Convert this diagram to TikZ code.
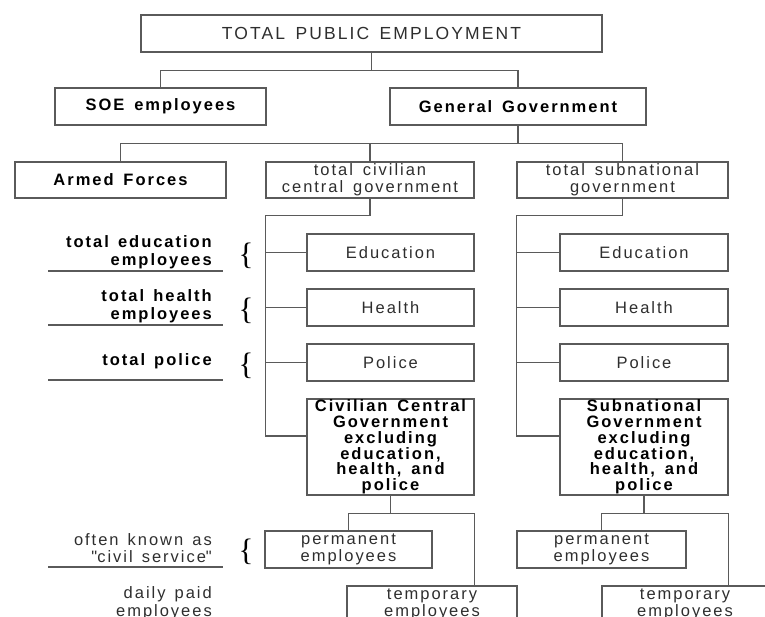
\documentclass[tikz,border=0pt]{standalone}
\usepackage{fontspec}
\setmainfont{Liberation Sans}[LetterSpace=12,WordSpace=1.5]
\newfontfamily\bracefont{Liberation Serif}
\usetikzlibrary{calc}

\definecolor{linegray}{HTML}{5A5A5A}
\definecolor{textgray}{HTML}{2E2E2E}

\begin{document}
\begin{tikzpicture}[x=1pt,y=-1pt,
  every node/.style={font=\fontsize{16.5}{17}\selectfont},
  box/.style={draw=linegray, line width=1.3pt, inner sep=0pt, align=center, text=textgray},
  boldbox/.style={box, font=\fontsize{16.5}{17}\selectfont\bfseries, text=black},
  tightbold/.style={box, font=\fontsize{16.5}{15.8}\selectfont\bfseries, text=black},
  conn/.style={draw=linegray, line width=1.3pt},
  rule/.style={draw=linegray, line width=1.3pt},
  sidelabel/.style={inner xsep=11pt, inner ysep=0pt, text width=200pt, align=right,
    minimum height=37pt, anchor=south east, text=black,
    execute at begin node={\spaceskip=0.55em\relax},
    font=\fontsize{16.5}{18}\selectfont\bfseries},
  sidenote/.style={sidelabel, text=textgray,
    font=\fontsize{16.5}{17.5}\selectfont},
  bracemark/.style={inner sep=0pt, text=black, font=\bracefont\fontsize{31}{31}\selectfont}
]
\useasboundingbox (0,0) rectangle (765,616);
\clip (0,0) rectangle (765,616);

% top levels
\node[box, minimum width=461pt, minimum height=37pt, font=\fontsize{17.5}{18}\selectfont] (tpe) at (371.5,33.5) {TOTAL PUBLIC EMPLOYMENT};
\node[boldbox, minimum width=211pt, minimum height=37pt] (soe) at (160.5,106.5) {SOE employees};
\node[boldbox, minimum width=256pt, minimum height=37pt] (gg) at (518,106.5) {General Government};
\node[boldbox, minimum width=211pt, minimum height=36pt] (af) at (120.5,180) {Armed Forces};
\node[box, minimum width=208pt, minimum height=36pt] (tcc) at (370,180) {total civilian\\central government};
\node[box, minimum width=211pt, minimum height=36pt] (tsn) at (622.5,180) {total subnational\\government};

% central government sectors
\node[box, minimum width=167pt, minimum height=37pt] (edu1) at (390.5,252.5) {Education};
\node[box, minimum width=167pt, minimum height=37pt] (hea1) at (390.5,307.5) {Health};
\node[box, minimum width=167pt, minimum height=37pt] (pol1) at (390.5,362.5) {Police};
\node[tightbold, minimum width=167pt, minimum height=96pt] (ccg) at (390.5,447)
  {Civilian Central\\Government\\excluding\\education,\\health, and\\police};

% subnational sectors
\node[box, minimum width=168pt, minimum height=37pt] (edu2) at (644,252.5) {Education};
\node[box, minimum width=168pt, minimum height=37pt] (hea2) at (644,307.5) {Health};
\node[box, minimum width=168pt, minimum height=37pt] (pol2) at (644,362.5) {Police};
\node[tightbold, minimum width=168pt, minimum height=96pt] (sng) at (644,447)
  {Subnational\\Government\\excluding\\education,\\health, and\\police};

% employment types
\node[box, minimum width=167pt, minimum height=37pt] (perm1) at (348.5,549.5) {permanent\\employees};
\node[box, minimum width=170pt, minimum height=36pt] (temp1) at (432,604) {temporary\\employees};
\node[box, minimum width=169pt, minimum height=37pt] (perm2) at (601.5,549.5) {permanent\\employees};
\node[box, minimum width=166pt, minimum height=36pt] (temp2) at (685,604) {temporary\\employees};

% connectors: upper tree
\draw[conn] (tpe.south) -- ++(0,18) coordinate (j0);
\draw[conn] (soe.north) |- (j0) -| (gg.north);
\draw[conn] (gg.south) -- ++(0,18) coordinate (j1);
\draw[conn] (af.north) |- (j1) -| (tsn.north);
\draw[conn] (j1 -| tcc.north) -- (tcc.north);

% connectors: central spine
\draw[conn] (tcc.south) -- ++(0,17) coordinate (j2);
\path (tcc.south west |- ccg.west) ++(0,-11) coordinate (sL);
\draw[conn] (j2) -| (sL) -- (sL -| ccg.west);
\foreach \n in {edu1,hea1,pol1} \draw[conn] (\n.west) -- (\n.west -| sL);

% connectors: subnational spine
\draw[conn] (tsn.south) -- ++(0,17) coordinate (j3);
\path (tsn.south west |- sng.west) ++(0,-11) coordinate (sR);
\draw[conn] (j3) -| (sR) -- (sR -| sng.west);
\foreach \n in {edu2,hea2,pol2} \draw[conn] (\n.west) -- (\n.west -| sR);

% connectors: permanent / temporary
\draw[conn] (ccg.south) -- ++(0,18) coordinate (j4);
\draw[conn] (perm1.north) |- (j4) -| (temp1.north -| ccg.east);
\draw[conn] (sng.south) -- ++(0,18) coordinate (j5);
\draw[conn] (perm2.north) |- (j5) -| (temp2.north -| sng.east);

% side labels, each underlined over a fixed 175pt run
\node[sidelabel] (lEdu) at (223,271) {total education\\employees};
\draw[rule] ($(lEdu.south east)+(-175,0)$) -- (lEdu.south east);
\node[sidelabel] (lHea) at (223,325) {total health\\employees};
\draw[rule] ($(lHea.south east)+(-175,0)$) -- (lHea.south east);
\node[sidelabel] (lPol) at (223,380) {total police};
\draw[rule] ($(lPol.south east)+(-175,0)$) -- (lPol.south east);
\node[sidenote] (lCiv) at (223,567) {often known as\\\textquotedbl civil service\textquotedbl};
\draw[rule] ($(lCiv.south east)+(-175,0)$) -- (lCiv.south east);
\node[sidenote] (lDay) at (223,622) {daily paid\\employees};

% braces
\node[bracemark] (bEdu) at (246,256) {\{};
\node[bracemark] (bHea) at (246,311) {\{};
\node[bracemark] (bPol) at (246,366) {\{};
\node[bracemark] (bCiv) at (246,552) {\{};
\end{tikzpicture}
\end{document}
